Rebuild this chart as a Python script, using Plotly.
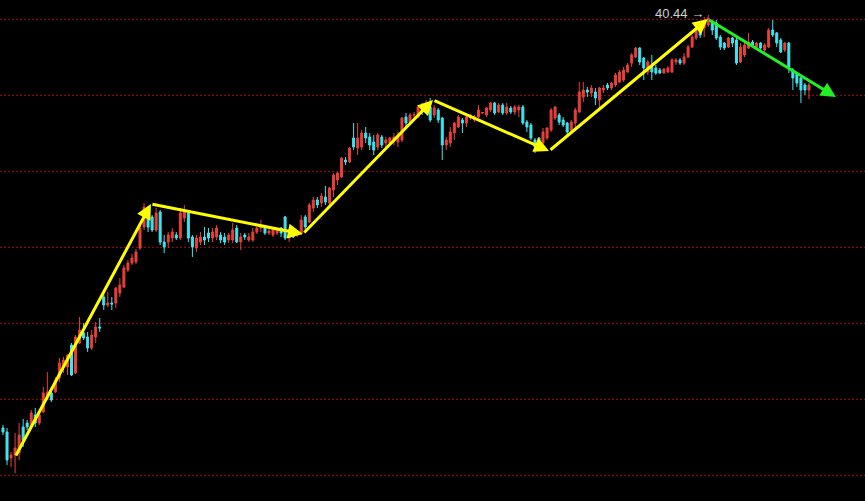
import plotly.graph_objects as go

# OHLC per candle (index 0..200)
opens = [19.79,19.59,18.29,18.44,18.54,19.84,20.04,19.84,20.44,20.04,20.59,21.34,21.54,21.59,22.29,22.84,22.84,23.94,22.54,24.04,
         24.54,24.34,23.79,24.34,24.84,26.34,25.94,26.04,26.04,26.54,26.84,27.69,28.04,28.09,28.79,29.84,30.69,30.34,29.69,30.59,
         29.09,29.09,29.29,29.44,29.29,30.29,30.54,29.34,28.79,29.09,29.34,29.54,29.29,29.34,29.44,29.34,29.19,29.19,29.79,29.09,
         29.44,29.19,29.19,29.59,29.79,29.79,29.54,29.44,29.54,29.79,30.34,29.29,29.54,29.44,29.54,30.34,30.09,30.79,31.19,31.04,
         31.34,31.04,31.69,32.19,32.34,33.19,33.09,34.29,33.79,33.84,34.54,34.34,34.09,33.84,34.34,34.04,34.04,34.19,34.09,34.19,
         35.34,35.09,35.44,35.34,35.94,35.69,35.84,35.44,35.69,35.29,33.94,34.04,34.54,34.84,35.19,35.04,35.29,35.19,35.34,35.54,
         35.44,35.69,36.04,35.59,35.94,35.54,35.79,35.59,35.69,35.84,35.09,34.94,34.19,34.29,34.04,34.29,34.69,35.29,35.44,35.19,
         35.04,34.69,35.04,35.59,36.34,36.69,36.54,36.59,36.19,36.69,36.94,36.79,36.94,37.09,37.19,37.59,38.04,38.34,38.79,38.29,
         37.59,37.84,37.79,37.69,37.54,37.59,37.59,38.09,38.19,38.04,38.34,38.84,39.29,39.79,39.79,39.94,40.09,40.04,39.34,39.04,
         38.84,39.29,39.19,38.09,38.44,38.79,39.09,38.84,39.04,38.69,38.84,39.69,39.54,39.19,38.69,39.04,37.69,37.54,37.29,36.94,
         36.69]
highs = [19.94,19.79,18.59,19.54,20.04,20.24,20.19,20.69,20.79,20.59,21.84,22.59,21.79,22.34,23.29,23.34,23.49,24.04,24.44,25.34,
         25.04,24.59,24.69,25.09,25.29,26.54,26.59,26.34,26.84,27.29,27.94,28.19,28.49,28.74,29.94,31.04,30.79,30.44,30.79,30.69,
         29.44,29.59,29.79,29.59,30.79,30.94,30.59,29.44,29.44,29.59,29.84,29.79,29.79,29.94,29.59,29.54,29.54,30.04,29.94,29.54,
         29.54,29.54,29.79,29.84,30.19,29.94,29.79,29.84,29.79,29.84,30.39,29.59,29.69,29.69,30.44,30.44,31.04,31.34,31.34,31.54,
         31.89,31.84,32.54,32.59,33.34,33.34,33.84,35.04,35.04,34.69,34.84,34.54,34.44,34.54,34.44,34.34,34.34,34.54,34.59,35.34,
         35.54,35.54,35.59,35.94,36.04,36.19,36.29,35.94,35.79,35.34,34.34,34.84,35.09,35.44,35.29,35.44,35.49,35.44,35.94,35.59,
         35.84,36.09,36.09,36.04,36.04,36.04,35.89,35.94,35.94,35.94,35.19,35.04,34.29,34.34,34.79,34.84,35.79,35.89,35.54,35.34,
         35.09,35.19,35.79,37.09,37.09,36.84,36.94,36.79,36.84,36.94,37.04,37.09,37.54,37.69,37.84,38.04,38.54,38.84,38.84,38.34,
         38.19,38.44,37.94,37.79,37.79,37.89,38.29,38.29,38.29,38.54,38.94,39.44,39.79,39.84,40.34,40.44,40.19,40.19,39.44,39.09,
         39.34,39.34,39.29,39.04,39.09,39.54,39.19,39.09,39.09,39.04,39.79,40.19,39.59,39.29,39.09,39.09,37.79,37.59,37.34,37.04,
         37.04]
lows = [19.44,17.94,17.84,17.54,18.19,18.84,19.69,19.79,19.84,19.94,20.54,21.19,21.09,21.54,22.09,22.54,22.44,22.39,22.49,23.99,
        24.19,23.59,23.69,24.04,24.59,25.69,25.84,25.69,25.79,26.34,26.79,27.59,27.94,27.99,28.69,29.69,29.59,29.59,29.59,28.94,
        28.54,28.79,29.09,29.19,29.19,30.09,29.09,28.34,28.59,28.94,28.94,29.09,29.09,29.19,29.04,28.94,29.04,29.04,29.04,28.69,
        29.19,29.09,29.09,29.49,29.59,29.44,29.44,29.34,29.44,29.34,29.19,29.09,29.29,29.34,29.44,29.69,30.04,30.59,30.79,30.84,
        30.94,30.94,31.34,31.94,32.29,32.94,33.04,33.69,33.44,33.69,34.04,33.69,33.44,33.69,33.79,33.84,33.94,33.94,33.84,34.09,
        34.84,34.94,35.29,35.29,35.44,35.59,35.09,35.29,35.04,33.19,33.69,33.84,34.19,34.79,34.54,34.84,35.19,35.09,35.29,35.49,
        35.34,35.59,35.44,35.54,35.44,35.44,35.49,35.44,35.34,34.94,34.59,34.19,33.54,33.79,33.84,34.19,34.59,35.19,34.94,34.84,
        34.44,34.59,34.84,35.54,36.09,36.34,36.34,35.94,35.84,36.54,36.69,36.69,36.84,37.04,37.09,37.54,37.84,38.29,37.94,37.19,
        37.44,37.19,37.44,37.49,37.49,37.54,37.54,37.94,37.94,37.94,38.29,38.79,39.19,39.29,39.34,39.84,39.44,39.19,38.69,38.69,
        38.79,38.84,37.94,38.04,38.34,38.74,38.84,38.79,38.69,38.59,38.79,39.34,38.84,38.54,38.59,37.54,36.69,36.84,36.04,36.44,
        36.24]
closes = [19.59,18.19,18.44,18.79,19.44,19.19,19.84,20.54,20.04,20.44,21.54,21.59,21.19,22.19,23.04,23.19,23.44,22.44,24.34,24.69,
          24.29,23.79,24.44,24.84,24.79,25.94,26.04,25.99,26.79,26.94,27.79,28.04,28.29,28.59,29.79,30.84,29.84,29.69,30.54,29.09,
          28.84,29.44,29.59,29.29,30.54,30.59,29.29,28.84,29.29,29.34,29.19,29.29,29.59,29.79,29.19,29.09,29.44,29.69,29.09,29.34,
          29.34,29.34,29.59,29.79,29.84,29.54,29.64,29.79,29.69,29.54,29.29,29.54,29.34,29.59,30.19,29.84,30.94,31.19,30.94,31.39,
          31.09,31.79,32.44,32.54,33.29,33.09,33.79,33.84,34.29,34.54,34.29,33.94,33.69,34.44,33.94,34.19,34.29,34.34,34.44,35.29,
          35.04,35.44,35.46,35.84,35.59,36.04,35.19,35.79,35.19,33.94,34.19,34.59,35.04,35.34,35.04,35.34,35.44,35.34,35.69,35.56,
          35.79,36.04,35.54,35.94,35.54,35.84,35.59,35.84,35.84,35.04,34.84,34.29,33.84,33.94,34.59,34.79,35.69,35.84,35.09,34.94,
          34.59,35.09,35.69,36.59,36.69,36.59,36.79,36.29,36.79,36.79,36.79,37.04,37.44,37.59,37.69,37.94,38.44,38.79,38.09,37.79,
          38.09,37.59,37.54,37.54,37.74,37.79,38.19,38.19,38.04,38.34,38.84,39.34,39.69,39.44,40.09,40.29,39.69,39.29,38.84,38.79,
          39.29,39.04,38.04,38.84,38.94,39.09,38.94,39.04,38.79,38.94,39.69,39.44,39.04,38.59,39.04,37.84,37.29,37.04,36.69,36.69,
          36.94]

# trend arrows (candle index, price)
trend_x = [3, 36.7, 74.4, 106.7, 135.5, 174.9]
trend_y = [18.34, 30.99, 29.49, 36.19, 33.64, 40.24]
down_x = [174.9, 206.7]
down_y = [40.24, 36.34]

grid_prices = [40.215, 36.415, 32.615, 28.815, 25.015, 21.215, 17.415]
peak_label = "40.44"

idx = list(range(len(opens)))

fig = go.Figure()
fig.add_trace(go.Candlestick(
    x=idx, open=opens, high=highs, low=lows, close=closes,
    increasing=dict(line=dict(color="#E8403A", width=1), fillcolor="#E8403A"),
    decreasing=dict(line=dict(color="#40E4F0", width=1), fillcolor="#40E4F0"),
    whiskerwidth=0, hoverinfo="skip", showlegend=False,
))

annotations = []
for k in range(len(trend_x) - 1):
    annotations.append(dict(
        x=trend_x[k + 1], y=trend_y[k + 1], ax=trend_x[k], ay=trend_y[k],
        xref="x", yref="y", axref="x", ayref="y", text="",
        showarrow=True, arrowhead=2, arrowsize=1.0, arrowwidth=3, arrowcolor="#FFFF00",
    ))
annotations.append(dict(
    x=down_x[1], y=down_y[1], ax=down_x[0], ay=down_y[0],
    xref="x", yref="y", axref="x", ayref="y", text="",
    showarrow=True, arrowhead=2, arrowsize=1.0, arrowwidth=3, arrowcolor="#22F022",
))
peak_i = highs.index(max(highs))
annotations.append(dict(
    x=peak_i, y=max(highs), xref="x", yref="y", text=peak_label + " →",
    showarrow=False, xanchor="right", yanchor="middle", xshift=-2, yshift=2,
    font=dict(family="Arial, Liberation Sans", size=13, color="#D0D0D0"),
))

fig.update_layout(
    template="none",
    width=865, height=501,
    margin=dict(l=0, r=0, t=0, b=0),
    paper_bgcolor="#000000", plot_bgcolor="#000000",
    showlegend=False,
    annotations=annotations,
    xaxis=dict(range=[-0.744, 213.9], showticklabels=False, showgrid=False, ticks="",
               zeroline=False, showline=False, rangeslider=dict(visible=False), fixedrange=True),
    yaxis=dict(range=[16.14, 41.19], showticklabels=False, showgrid=True, ticks="",
               tickvals=grid_prices, gridcolor="#A00000", griddash="2px,2px", gridwidth=1,
               zeroline=False, showline=False, fixedrange=True),
)

fig.write_html("out.html", config={"displayModeBar": False, "staticPlot": True},
               post_script="document.body.style.margin='0';document.body.style.background='#000';")
